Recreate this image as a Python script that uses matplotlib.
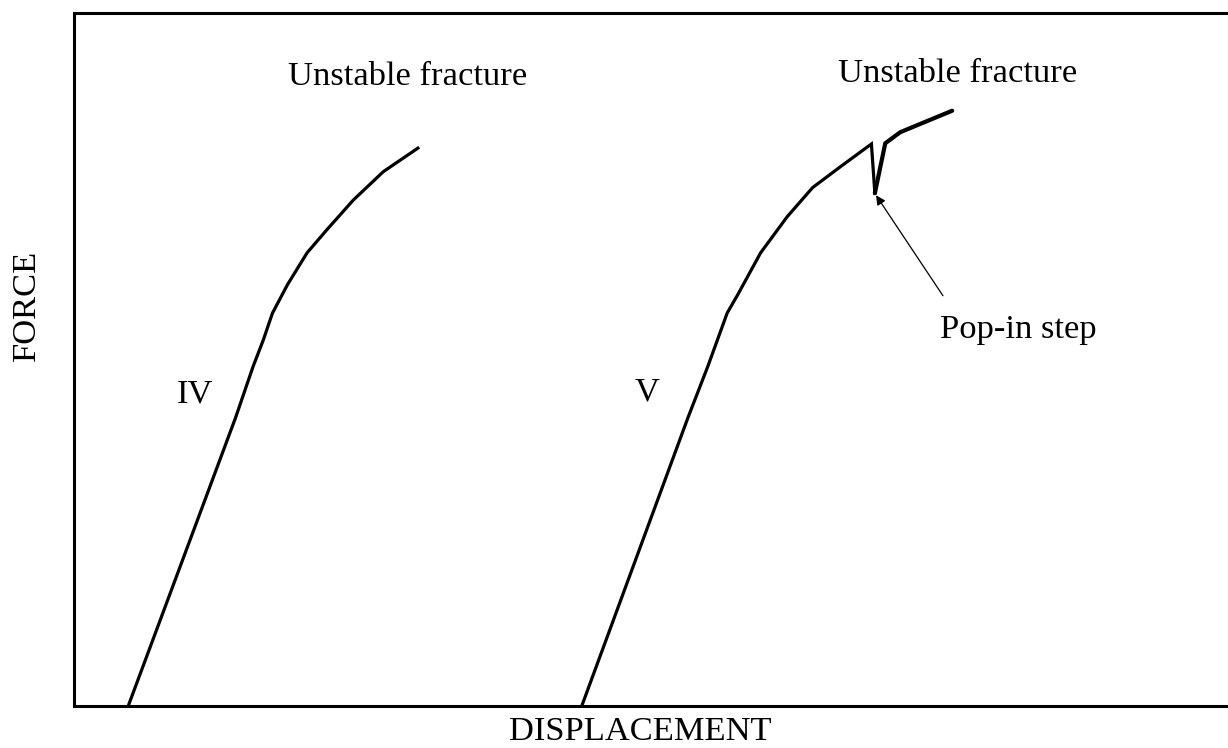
"""Force-displacement sketch: curves IV and V, with a pop-in step on V."""

import matplotlib

matplotlib.use("Agg")

import matplotlib.pyplot as plt

# Axes run 0-100 in both directions (arbitrary units, no ticks)
disp_iv = [4.7, 14.0, 15.5, 16.4, 17.2, 18.5, 20.2, 21.9, 24.2, 26.8, 29.8]
force_iv = [0.0, 41.6, 48.9, 52.8, 56.7, 60.8, 65.4, 68.7, 73.0, 77.1, 80.5]

disp_v = [44.0, 53.2, 54.9, 56.6, 57.5, 59.5, 61.8, 64.0, 66.4, 69.1, 69.4]
force_v = [0.0, 41.6, 48.9, 56.7, 59.3, 65.4, 70.6, 74.8, 77.8, 81.1, 74.0]

# after the pop-in the trace is drawn heavier
disp_v_tail = [69.4, 70.3, 71.6, 76.1]
force_v_tail = [74.0, 81.2, 82.8, 85.9]

popin_head = (69.5, 73.7)
popin_tail = (75.3, 59.2)

plt.rcParams["font.family"] = ["Liberation Serif", "DejaVu Serif"]

fig = plt.figure(figsize=(12.28, 7.48), dpi=100)
ax = fig.add_axes([74 / 1228, 42 / 748, 1 - 74 / 1228, (706 - 13) / 748])

ax.plot(disp_iv, force_iv, color="black", linewidth=2.3, solid_joinstyle="round")
ax.plot(disp_v, force_v, color="black", linewidth=2.3, solid_joinstyle="miter")
ax.plot(disp_v_tail, force_v_tail, color="black", linewidth=3.0, solid_capstyle="round")

ax.annotate(
    "",
    xy=popin_head,
    xytext=popin_tail,
    arrowprops=dict(arrowstyle="-|>", color="black", lw=0.9, mutation_scale=14, shrinkA=0, shrinkB=0),
)

fs = 24.8
ax.text(28.9, 89.6, "Unstable fracture", ha="center", va="baseline", fontsize=fs)
ax.text(76.6, 90.0, "Unstable fracture", ha="center", va="baseline", fontsize=fs)
ax.text(75.0, 53.1, "Pop-in step", ha="left", va="baseline", fontsize=fs)
ax.text(10.5, 45.0, "IV", ha="center", va="center", fontsize=fs)
ax.text(49.7, 45.3, "V", ha="center", va="center", fontsize=fs)

fig.text(27 / 1228, 1 - 305 / 748, "FORCE", rotation=90, ha="center", va="center", fontsize=fs)
fig.text(640 / 1228, 1 - 732 / 748, "DISPLACEMENT", ha="center", va="center", fontsize=fs)

ax.set_xlim(0, 100)
ax.set_ylim(0, 100)
ax.set_xticks([])
ax.set_yticks([])
for side in ("left", "bottom", "top"):
    ax.spines[side].set_linewidth(2.2)
ax.spines["right"].set_visible(False)

fig.savefig("out.png", dpi=100)
plt.close(fig)
